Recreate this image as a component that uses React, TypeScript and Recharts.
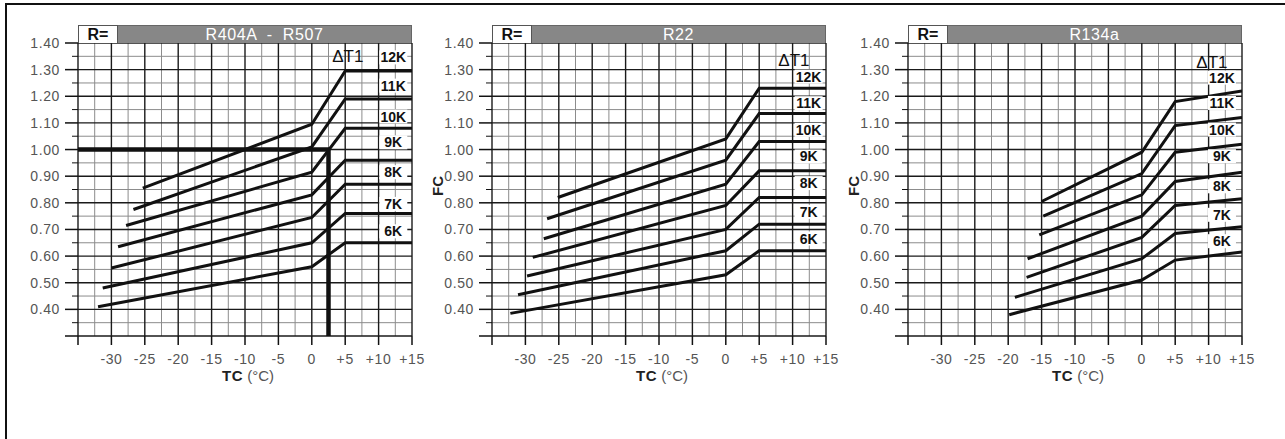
import React from 'react';
import { LineChart, Line, XAxis, YAxis, CartesianGrid, ReferenceDot, Label } from 'recharts';

const deltaT1 = ['6K', '7K', '8K', '9K', '10K', '11K', '12K'];
const bendTc = [0, 5, 15];

// R404A - R507 : start of each curve, FC at 0 / +5 / +15 °C
const r404aStartTc = [-32, -31.3, -30, -29, -27.8, -26.7, -25.3];
const r404aStartFc = [0.41, 0.48, 0.555, 0.635, 0.715, 0.775, 0.855];
const r404aFc0 = [0.56, 0.65, 0.745, 0.83, 0.915, 1.01, 1.095];
const r404aFc5 = [0.65, 0.76, 0.87, 0.96, 1.08, 1.19, 1.295];
const r404aFc15 = [0.65, 0.76, 0.87, 0.96, 1.08, 1.19, 1.295];
const r404aLabelFc = [0.693, 0.796, 0.915, 1.027, 1.124, 1.24, 1.346];

// R22
const r22StartTc = [-32.25, -31.1, -29.75, -28.9, -27.25, -26.75, -25.15];
const r22StartFc = [0.385, 0.455, 0.525, 0.595, 0.665, 0.74, 0.82];
const r22Fc0 = [0.53, 0.62, 0.7, 0.79, 0.87, 0.96, 1.04];
const r22Fc5 = [0.62, 0.72, 0.82, 0.92, 1.03, 1.135, 1.23];
const r22Fc15 = [0.62, 0.72, 0.82, 0.92, 1.03, 1.135, 1.23];
const r22LabelFc = [0.666, 0.766, 0.874, 0.974, 1.074, 1.174, 1.274];

// R134a
const r134aStartTc = [-19.85, -19, -17.25, -17.1, -15.35, -14.75, -15];
const r134aStartFc = [0.38, 0.445, 0.52, 0.59, 0.68, 0.75, 0.805];
const r134aFc0 = [0.51, 0.59, 0.67, 0.75, 0.83, 0.91, 0.99];
const r134aFc5 = [0.585, 0.685, 0.79, 0.88, 0.99, 1.09, 1.18];
const r134aFc15 = [0.615, 0.71, 0.815, 0.915, 1.02, 1.12, 1.22];
const r134aLabelFc = [0.656, 0.755, 0.862, 0.975, 1.075, 1.175, 1.27];

// worked example on the R404A chart
const exampleTc = [-35, 2.5, 2.5];
const exampleFc = [1.0, 1.0, 0.3];

const tcTicks = [-35, -30, -25, -20, -15, -10, -5, 0, 5, 10, 15];
const tcMinor = [-32.5, -27.5, -22.5, -17.5, -12.5, -7.5, -2.5, 2.5, 7.5, 12.5];
const fcTicks = [0.3, 0.35, 0.4, 0.45, 0.5, 0.55, 0.6, 0.65, 0.7, 0.75, 0.8, 0.85, 0.9, 0.95, 1.0, 1.05, 1.1, 1.15, 1.2, 1.25, 1.3, 1.35, 1.4];
const fcMajor = [0.3, 0.4, 0.5, 0.6, 0.7, 0.8, 0.9, 1.0, 1.1, 1.2, 1.3, 1.4];
const fcMinor = [0.35, 0.45, 0.55, 0.65, 0.75, 0.85, 0.95, 1.05, 1.15, 1.25, 1.35];

const FONT = '"Liberation Sans", Arial, Helvetica, sans-serif';
const PLOT_W = 334;
const PLOT_H = 293;
const AXIS_W = 78;
const TOP = 43;
const RIGHT = 24;

const buildCurves = (start: number[], startFc: number[], fc0: number[], fc5: number[], fc15: number[]) =>
  start.map((tc, i) => [
    { tc, fc: startFc[i] },
    { tc: bendTc[0], fc: fc0[i] },
    { tc: bendTc[1], fc: fc5[i] },
    { tc: bendTc[2], fc: fc15[i] },
  ]);

const isMajor = (v: number) => Math.abs(v * 10 - Math.round(v * 10)) < 0.001;

const FcTick = (props: any) => {
  const { x, y, payload } = props;
  const v = payload.value;
  const major = isMajor(v);
  return (
    <g>
      <line x1={x - (major ? 13 : 6)} x2={x} y1={y} y2={y} stroke="#111" strokeWidth={major ? 1.5 : 1} />
      {major && v > 0.35 && (
        <text x={x - 18} y={y} dy={5} textAnchor="end" fontSize={14} letterSpacing={0.6} fill="#555" fontFamily={FONT}>
          {v.toFixed(2)}
        </text>
      )}
    </g>
  );
};

const TcTick = (props: any) => {
  const { x, y, payload } = props;
  const v = payload.value;
  return (
    <g>
      <line x1={x} x2={x} y1={y} y2={y + 9} stroke="#111" strokeWidth={1.5} />
      {v > -35 && (
        <text x={x} y={y + 28} textAnchor="middle" fontSize={14} letterSpacing={0.6} fill="#555" fontFamily={FONT}>
          {v > 0 ? `+${v}` : `${v}`}
        </text>
      )}
    </g>
  );
};

const TcLabel = (props: any) => {
  const vb = props.viewBox;
  return (
    <text x={vb.x + vb.width / 2 + 3} y={vb.y + 45} textAnchor="middle" fontSize={15} fontFamily={FONT}>
      <tspan fontWeight="bold" fill="#222" letterSpacing={0.5}>TC</tspan>
      <tspan fill="#555">{'  (°C)'}</tspan>
    </text>
  );
};

const FcLabel = (props: any) => {
  const vb = props.viewBox;
  const x = vb.x + vb.width - 55;
  const y = 186;
  return (
    <text x={x} y={y} transform={`rotate(-90 ${x} ${y})`} textAnchor="middle" dy={5.5} fontSize={15} fontWeight="bold" fill="#222" fontFamily={FONT}>
      FC
    </text>
  );
};

type PanelProps = {
  name: string;
  left: number;
  curves: { tc: number; fc: number }[][];
  labelFc: number[];
  labelTc: number;
  dtTc: number;
  dtFc: number;
  showFc: boolean;
  example?: boolean;
};

const Panel = ({ name, left, curves, labelFc, labelTc, dtTc, dtFc, showFc, example }: PanelProps) => {
  const exampleData = exampleTc.map((tc, i) => ({ tc, fc: exampleFc[i] }));
  return (
    <div style={{ position: 'absolute', left, top: 0 }}>
      <LineChart
        width={AXIS_W + PLOT_W + RIGHT}
        height={400}
        margin={{ top: TOP, right: RIGHT, bottom: 14, left: 0 }}
      >
        <CartesianGrid horizontalValues={fcMinor} verticalValues={tcMinor} stroke="#8c8c8c" strokeWidth={1} />
        <CartesianGrid horizontalValues={fcMajor} verticalValues={tcTicks} stroke="#1a1a1a" strokeWidth={1.4} />
        <XAxis
          dataKey="tc"
          type="number"
          domain={[-35, 15]}
          ticks={tcTicks}
          interval={0}
          allowDataOverflow
          axisLine={false}
          tickLine={false}
          tickSize={0}
          tickMargin={0}
          tick={<TcTick />}
          height={50}
        >
          <Label content={<TcLabel />} />
        </XAxis>
        <YAxis
          type="number"
          domain={[0.3, 1.4]}
          ticks={fcTicks}
          interval={0}
          allowDataOverflow
          axisLine={false}
          tickLine={false}
          tickSize={0}
          tickMargin={0}
          tick={<FcTick />}
          width={AXIS_W}
        >
          {showFc && <Label content={<FcLabel />} />}
        </YAxis>
        {curves.map((d, i) => (
          <Line
            key={deltaT1[i]}
            data={d}
            dataKey="fc"
            stroke="#111"
            strokeWidth={3}
            dot={false}
            activeDot={false}
            isAnimationActive={false}
          />
        ))}
        {example && (
          <Line
            data={exampleData}
            dataKey="fc"
            stroke="#111"
            strokeWidth={4.5}
            dot={false}
            activeDot={false}
            isAnimationActive={false}
          />
        )}
        {deltaT1.map((k, i) => (
          <ReferenceDot
            key={`lbl-${k}`}
            x={labelTc}
            y={labelFc[i]}
            ifOverflow="visible"
            shape={(p: any) => (
              <g>
                <rect x={p.cx - 14} y={p.cy - 7} width={28} height={14} fill="#fff" />
                <text x={p.cx} y={p.cy} dy={5} textAnchor="middle" fontSize={14} fontWeight="bold" fill="#111" fontFamily={FONT}>
                  {k}
                </text>
              </g>
            )}
          />
        ))}
        <ReferenceDot
          x={dtTc}
          y={dtFc}
          ifOverflow="visible"
          shape={(p: any) => (
            <text x={p.cx} y={p.cy} dy={6} textAnchor="middle" fontSize={17} fill="#111" fontFamily={FONT}>
              ΔT1
            </text>
          )}
        />
      </LineChart>
      <div
        style={{
          position: 'absolute',
          left: AXIS_W,
          top: 25,
          width: PLOT_W,
          height: 18,
          display: 'flex',
          fontFamily: FONT,
          fontSize: 16,
          boxSizing: 'border-box',
        }}
      >
        <div
          style={{
            width: 40,
            background: '#fff',
            border: '1px solid #555',
            borderBottom: 'none',
            boxSizing: 'border-box',
            textAlign: 'center',
            lineHeight: '18px',
            color: '#111',
            fontWeight: 'bold',
          }}
        >
          R=
        </div>
        <div
          style={{
            flex: 1,
            background: '#878787',
            border: '1px solid #666',
            borderBottom: 'none',
            borderLeft: 'none',
            textAlign: 'center',
            lineHeight: '18px',
            color: '#fff',
            whiteSpace: 'pre',
            letterSpacing: 0.6,
          }}
        >
          {name}
        </div>
      </div>
    </div>
  );
};

export default function App() {
  return (
    <div style={{ position: 'absolute', left: 0, top: 0, width: 1285, height: 439, background: '#fff', overflow: 'hidden' }}>
      <div
        style={{
          position: 'absolute',
          left: 5,
          top: 3,
          width: 1285,
          height: 439,
          borderLeft: '2px solid #111',
          borderTop: '2px solid #111',
        }}
      />
      <Panel
        name="R404A  -  R507"
        left={0}
        curves={buildCurves(r404aStartTc, r404aStartFc, r404aFc0, r404aFc5, r404aFc15)}
        labelFc={r404aLabelFc}
        labelTc={12.2}
        dtTc={5.4}
        dtFc={1.35}
        showFc={false}
        example
      />
      <Panel
        name="R22"
        left={414}
        curves={buildCurves(r22StartTc, r22StartFc, r22Fc0, r22Fc5, r22Fc15)}
        labelFc={r22LabelFc}
        labelTc={12.4}
        dtTc={10.2}
        dtFc={1.336}
        showFc
      />
      <Panel
        name="R134a"
        left={830}
        curves={buildCurves(r134aStartTc, r134aStartFc, r134aFc0, r134aFc5, r134aFc15)}
        labelFc={r134aLabelFc}
        labelTc={12.0}
        dtTc={10.5}
        dtFc={1.33}
        showFc
      />
    </div>
  );
}
